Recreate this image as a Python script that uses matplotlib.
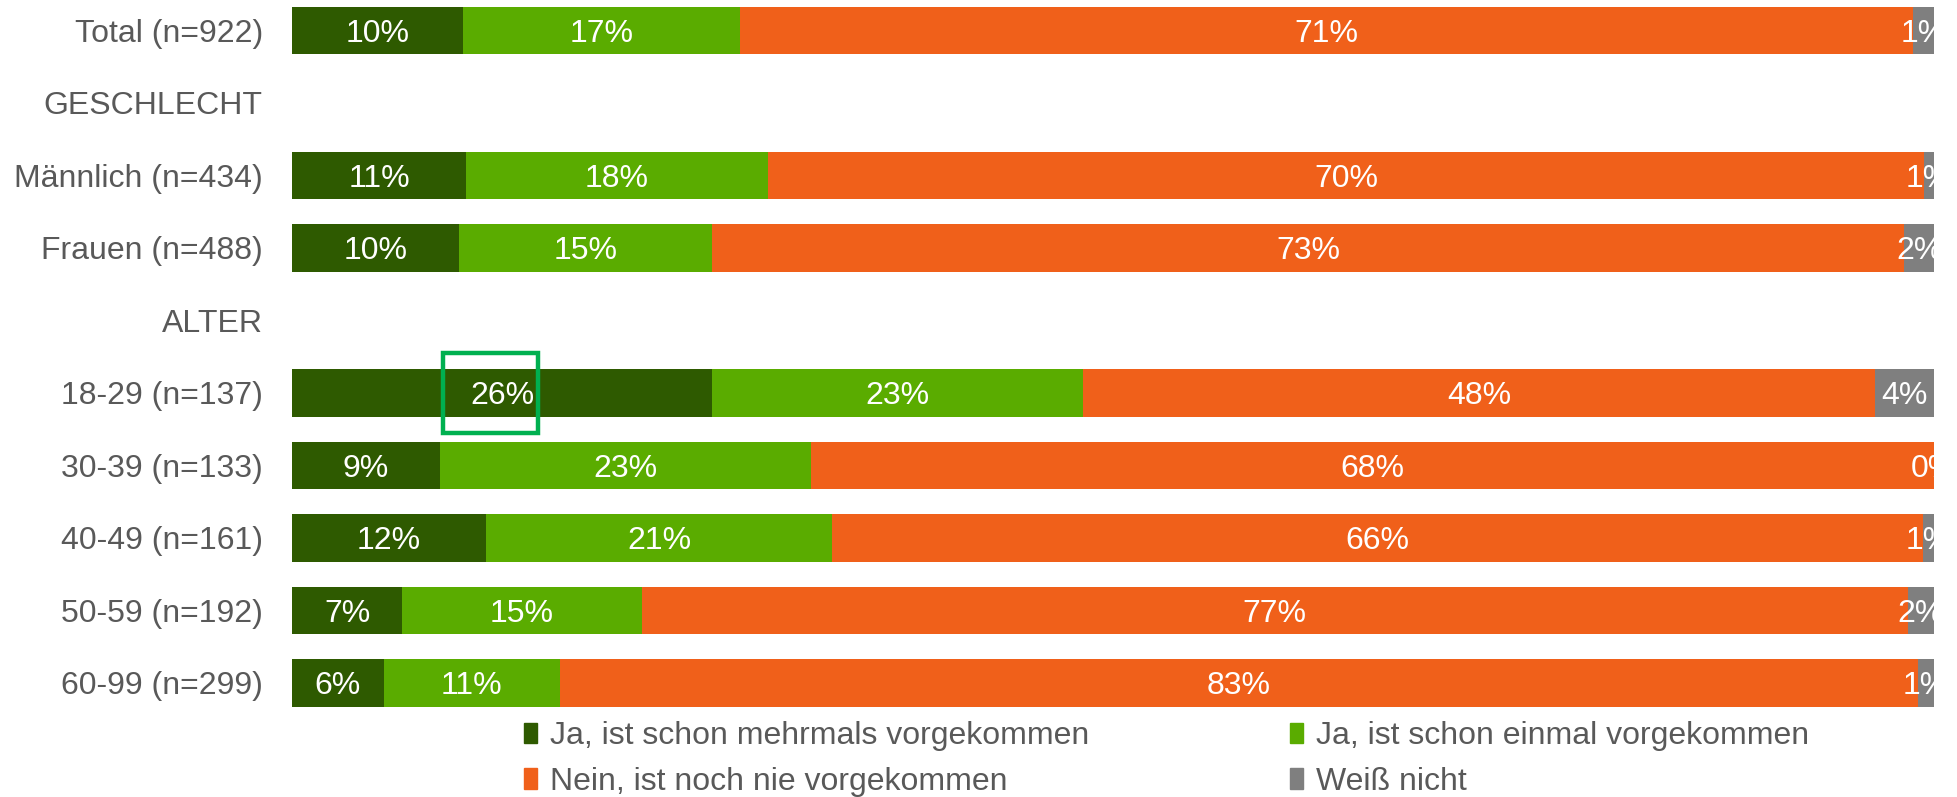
import numpy as np
import matplotlib
matplotlib.use("Agg")
import matplotlib.pyplot as plt
from matplotlib.patches import Patch, Rectangle

plt.rcParams['font.family'] = ['Liberation Sans', 'DejaVu Sans']

rows = ["Total (n=922)", "GESCHLECHT", "Männlich (n=434)", "Frauen (n=488)", "ALTER",
        "18-29 (n=137)", "30-39 (n=133)", "40-49 (n=161)", "50-59 (n=192)", "60-99 (n=299)"]
series = ["Ja, ist schon mehrmals vorgekommen", "Ja, ist schon einmal vorgekommen",
          "Nein, ist noch nie vorgekommen", "Weiß nicht"]
colors = ["#2E5A00", "#5AAC00", "#F0601A", "#7F7F7F"]

# shares in %, None = header row without bar
mehrmals = [10.4, None, 10.6, 10.2, None, 25.6, 9.0, 11.8, 6.7, 5.6]
einmal = [16.9, None, 18.4, 15.4, None, 22.6, 22.6, 21.1, 14.6, 10.7]
nie = [71.4, None, 70.4, 72.6, None, 48.2, 68.4, 66.4, 77.1, 82.7]
weiss = [1.3, None, 0.6, 1.8, None, 3.6, 0.0, 0.7, 1.6, 1.0]

data = np.array([mehrmals, einmal, nie, weiss], dtype=float)  # NaN for headers

fig = plt.figure(figsize=(19.58, 7.97), dpi=100)
ax = fig.add_axes([292 / 1958, 70.5 / 797, 1642 / 1958, 726.5 / 797])

y = np.arange(len(rows))
valid = ~np.isnan(data[0])

left = np.zeros(len(rows))
for i, (name, col) in enumerate(zip(series, colors)):
    w = np.where(valid, data[i], 0)
    ax.barh(y[valid], w[valid], left=left[valid], height=0.655, color=col, label=name)
    for j in np.where(valid)[0]:
        ax.text(left[j] + w[j] / 2, y[j], f"{data[i, j]:.0f}%", ha='center', va='center_baseline',
                color='white', fontsize=23, clip_on=True)
    left += w

# highlight box around 26%
idx = rows.index("18-29 (n=137)")
ax.add_patch(Rectangle((9.2, idx - 0.55), 5.8, 1.1, fill=False, edgecolor='#00B050',
                       linewidth=3.2, clip_on=False, zorder=5))

ax.set_xlim(0, 100)
ax.set_ylim(9.6, -0.42)
ax.set_yticks(y)
ax.set_yticklabels(rows, fontsize=23, color='#595959')
ax.tick_params(axis='y', length=0, pad=21)
ax.set_xticks([])
for s in ax.spines.values():
    s.set_visible(False)

# legend filled row by row like the original
order = [0, 2, 1, 3]
handles = [Patch(color=colors[k]) for k in order]
labels = [series[k] for k in order]
fig.legend(handles, labels, ncol=2, loc='upper left', bbox_to_anchor=(524 / 1958, 1 - 721 / 797),
           frameon=False, fontsize=23, labelcolor='#595959', handlelength=0.4, handleheight=0.6,
           handletextpad=0.4, columnspacing=6.3, labelspacing=0.49, borderpad=0, borderaxespad=0)

fig.savefig("out.png", dpi=100)
